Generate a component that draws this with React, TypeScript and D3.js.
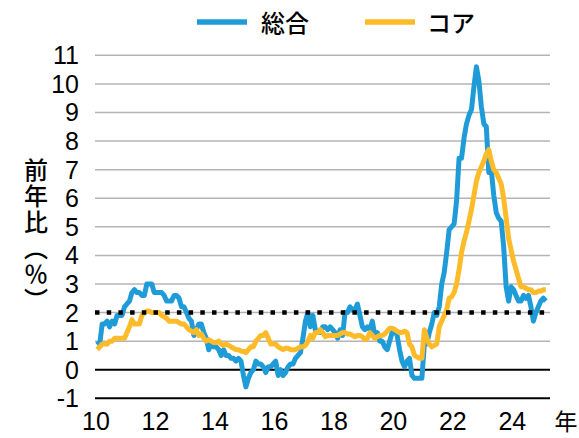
import * as d3 from 'd3';

// 前年比（%）, monthly from Jan 2010 to Feb 2025
const headline = [
  1.0, 0.9, 1.6, 1.6, 1.7, 1.5, 1.7, 1.6, 1.9, 1.9, 1.9, 2.2,
  2.3, 2.4, 2.7, 2.8, 2.7, 2.7, 2.6, 2.6, 3.0, 3.0, 3.0, 2.7,
  2.7, 2.7, 2.7, 2.6, 2.4, 2.4, 2.4, 2.6, 2.6, 2.5, 2.2, 2.2,
  2.0, 1.8, 1.7, 1.2, 1.4, 1.6, 1.6, 1.3, 1.1, 0.7, 0.9, 0.8,
  0.8, 0.7, 0.5, 0.7, 0.5, 0.5, 0.4, 0.4, 0.3, 0.4, 0.3, -0.2,
  -0.6, -0.3, -0.1, 0.0, 0.3, 0.2, 0.2, 0.1, -0.1, 0.1, 0.1, 0.2,
  0.3, -0.2, 0.0, -0.2, -0.1, 0.1, 0.2, 0.2, 0.4, 0.5, 0.6, 1.1,
  1.7, 2.0, 1.5, 1.9, 1.4, 1.3, 1.3, 1.5, 1.5, 1.4, 1.5, 1.4,
  1.3, 1.1, 1.4, 1.2, 2.0, 2.0, 2.2, 2.1, 2.1, 2.3, 1.9, 1.5,
  1.4, 1.5, 1.4, 1.7, 1.2, 1.3, 1.0, 1.0, 0.8, 0.7, 1.0, 1.3,
  1.4, 1.2, 0.7, 0.3, 0.1, 0.3, 0.4, -0.2, -0.3, -0.3, -0.3, -0.3,
  0.9, 0.9, 1.3, 1.6, 2.0, 1.9, 2.2, 3.0, 3.4, 4.1, 4.9, 5.0,
  5.1, 5.9, 7.4, 7.4, 8.1, 8.6, 8.9, 9.1, 9.9, 10.6, 10.1, 9.2,
  8.6, 8.5, 6.9, 7.0, 6.1, 5.5, 5.3, 5.2, 4.3, 2.9, 2.4, 2.9,
  2.8, 2.6, 2.4, 2.4, 2.6, 2.5, 2.6, 2.2, 1.7, 2.0, 2.2, 2.4,
  2.5, 2.4,
];

const core = [
  0.7, 0.8, 0.9, 0.9, 0.9, 1.0, 1.0, 1.1, 1.1, 1.1, 1.1, 1.1,
  1.3, 1.5, 1.75, 1.6, 1.6, 1.6, 1.9, 2.0, 2.05, 2.05, 2.0, 2.0,
  2.0, 2.0, 1.9, 1.85, 1.8, 1.7, 1.7, 1.7, 1.7, 1.65, 1.6, 1.6,
  1.5, 1.4, 1.35, 1.3, 1.4, 1.2, 1.25, 1.1, 1.0, 1.05, 1.0, 0.95,
  0.95, 1.0, 0.9, 0.85, 0.9, 0.85, 0.8, 0.75, 0.7, 0.7, 0.65, 0.65,
  0.6, 0.7, 0.8, 0.8, 1.0, 1.1, 1.2, 1.2, 1.3, 1.1, 0.9, 0.9,
  0.9, 0.8, 0.75, 0.7, 0.75, 0.75, 0.7, 0.7, 0.7, 0.75, 0.8, 0.8,
  0.85, 1.0, 1.2, 1.1, 1.3, 1.3, 1.4, 1.3, 1.15, 1.2, 1.2, 1.2,
  1.2, 1.2, 1.25, 1.3, 1.3, 1.25, 1.25, 1.2, 1.15, 1.2, 1.2, 1.15,
  1.05, 1.1, 1.3, 1.2, 1.1, 1.15, 1.2, 1.2, 1.25, 1.35, 1.45, 1.45,
  1.4, 1.35, 1.3, 1.3, 1.35, 1.3, 0.9, 0.8, 0.5, 0.45, 0.4, 0.4,
  1.4, 1.1, 0.9, 0.8, 0.85, 0.9, 1.5, 1.7, 1.9, 2.1, 2.5, 2.55,
  2.7, 3.0, 3.5, 4.1, 4.5, 4.8, 5.2, 5.6, 6.1, 6.6, 6.9, 7.1,
  7.3, 7.55, 7.7, 7.3, 7.0, 6.9, 6.7, 6.5, 6.0, 5.3, 4.6, 4.2,
  3.8, 3.5, 3.2, 2.9, 2.9, 2.85, 2.8, 2.8, 2.7, 2.7, 2.75, 2.75,
  2.8, 2.8,
];

const seriesNames = ['総合', 'コア'];
const yTicks = [-1, 0, 1, 2, 3, 4, 5, 6, 7, 8, 9, 10, 11];
const xTickYears = [2010, 2012, 2014, 2016, 2018, 2020, 2022, 2024];
const target = 2;

const width = 579;
const height = 438;
const plotLeft = 95;
const plotRight = 550;
const blue = '#1f9cd8';
const yellow = '#fdbb2a';
const numFont = '"Liberation Sans", Arial, sans-serif';
const jpFont = '"Noto Sans CJK JP", "Noto Sans", sans-serif';

const x = d3.scaleLinear().domain([2010, 2025.3]).range([96, 551]);
const y = d3.scaleLinear().domain([-1, 11]).range([398.3, 55.3]);

const monthDate = (i: number) => 2010 + (i + 0.5) / 12;

const line = d3
  .line<number>()
  .x((_, i) => x(monthDate(i)))
  .y((d) => y(d));

export default function App() {
  return (
    <svg width={width} height={height} style={{ display: 'block', position: 'absolute', left: 0, top: 0 }}>
      <rect width={width} height={height} fill="#fff" />

      {/* grid */}
      {yTicks.filter((t) => t > 0).map((t) => (
        <line key={t} x1={plotLeft} x2={plotRight} y1={y(t)} y2={y(t)} stroke="#b4b4b4" strokeWidth={1.5} />
      ))}
      <line x1={plotLeft} x2={plotRight} y1={y(0)} y2={y(0)} stroke="#000" strokeWidth={2} />
      <line x1={plotLeft} x2={plotRight} y1={y(-1)} y2={y(-1)} stroke="#000" strokeWidth={2} />

      {/* series */}
      <path d={line(headline) ?? ''} fill="none" stroke={blue} strokeWidth={5} strokeLinejoin="round" />
      <path d={line(core) ?? ''} fill="none" stroke={yellow} strokeWidth={5} strokeLinejoin="round" />

      {/* 2% line */}
      <line x1={plotLeft} x2={plotRight} y1={y(target)} y2={y(target)} stroke="#000" strokeWidth={4.5} strokeDasharray="4.5 7.2" />

      {/* y tick labels */}
      {yTicks.map((t) => (
        <text key={t} x={79} y={y(t)} dy="0.36em" textAnchor="end" fontFamily={numFont} fontSize={25} fill="#000">
          {t}
        </text>
      ))}

      {/* x tick labels */}
      {xTickYears.map((yr) => (
        <text key={yr} x={x(yr)} y={430} textAnchor="middle" fontFamily={numFont} fontSize={25} fill="#000">
          {String(yr % 100).padStart(2, '0')}
        </text>
      ))}
      <text x={566} y={430} textAnchor="middle" fontFamily={jpFont} fontSize={23} fill="#000">年</text>

      {/* y title */}
      <text
        x={36}
        y={158}
        fontFamily={jpFont}
        fontSize={24}
        fontWeight={500}
        letterSpacing={2}
        fill="#000"
        style={{ writingMode: 'vertical-rl' }}
      >
        前年比（％）
      </text>

      {/* legend */}
      <line x1={197} x2={247} y1={22} y2={22} stroke={blue} strokeWidth={5.5} />
      <text x={261} y={32} fontFamily={jpFont} fontSize={24} fontWeight={500} fill="#000">{seriesNames[0]}</text>
      <line x1={365} x2={415} y1={22} y2={22} stroke={yellow} strokeWidth={5.5} />
      <text x={427} y={32} fontFamily={jpFont} fontSize={24} fontWeight={500} fill="#000">{seriesNames[1]}</text>
    </svg>
  );
}
